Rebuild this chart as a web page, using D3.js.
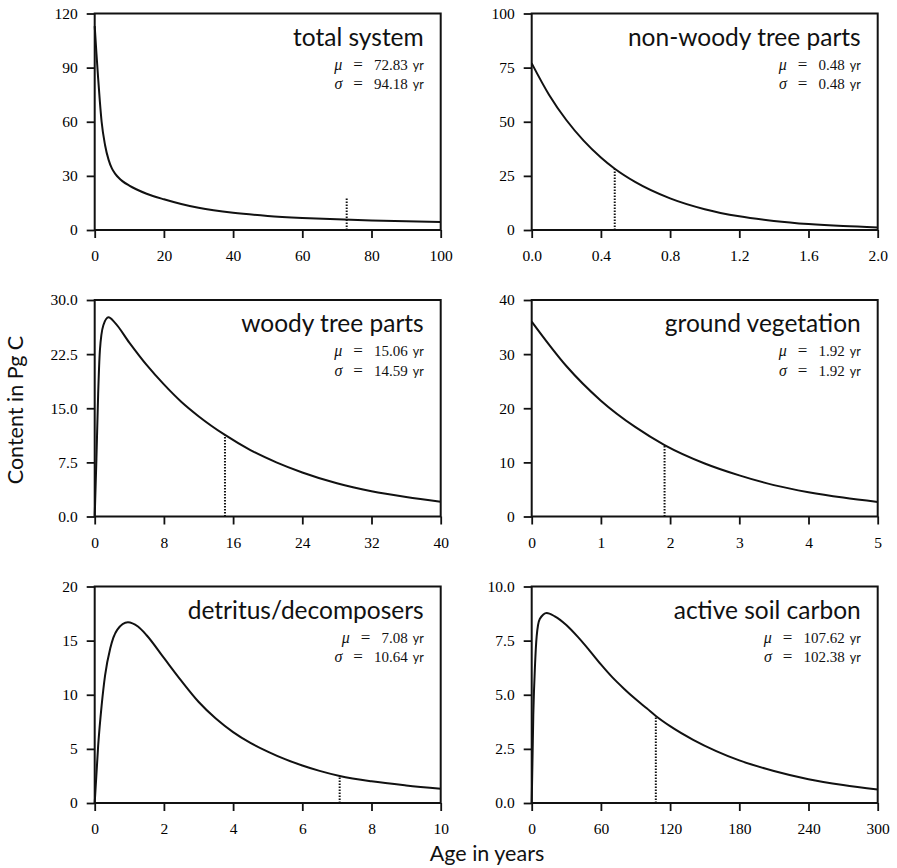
<!DOCTYPE html>
<html>
<head>
<meta charset="utf-8">
<script src="https://cdn.jsdelivr.net/npm/d3@7"></script>
<style>
  body { margin: 0; background: #fff; }
  .axis line { stroke: #111; stroke-width: 1.8; }
  .title { font-family: Lato, sans-serif; font-size: 24.5px; fill: #111; }
  .stat { font-family: "Liberation Serif", "Times New Roman", serif; font-size: 15px; fill: #111; }
  .unit { font-family: Lato, sans-serif; font-size: 12.5px; }
  .label { font-family: Lato, sans-serif; font-size: 21.5px; fill: #111; }
</style>
</head>
<body>
<script>
// panel order: row by row, left to right
const panelTitles = ["total system", "non-woody tree parts", "woody tree parts",
                     "ground vegetation", "detritus/decomposers", "active soil carbon"];
const meanAges = [72.83, 0.48, 15.06, 1.92, 7.08, 107.62];
const sdAges   = [94.18, 0.48, 14.59, 1.92, 10.64, 102.38];
const meanLineTops = [17.5, 28.3, 11.3, 13.2, 2.5, 4.02];

const xMaxes = [100, 2, 40, 5, 10, 300];
const yMaxes = [120, 100, 30, 40, 20, 10];
const xTicks = [[0, 20, 40, 60, 80, 100], [0, 0.4, 0.8, 1.2, 1.6, 2.0], [0, 8, 16, 24, 32, 40],
                [0, 1, 2, 3, 4, 5], [0, 2, 4, 6, 8, 10], [0, 60, 120, 180, 240, 300]];
const yTicks = [[0, 30, 60, 90, 120], [0, 25, 50, 75, 100], [0, 7.5, 15, 22.5, 30],
                [0, 10, 20, 30, 40], [0, 5, 10, 15, 20], [0, 2.5, 5, 7.5, 10]];
const xFormats = ["d", ".1f", "d", "d", "d", "d"];
const yFormats = ["d", "d", ".1f", "d", "d", ".1f"];

// curves: age (yr) and content (Pg C)
const totalAge     = [0, 0.5, 1, 1.5, 2, 3, 4, 5, 6, 7, 8, 10, 12, 15, 20, 25, 30, 40, 50, 60, 70, 80, 90, 100];
const totalContent = [113, 98, 84, 71, 60, 47, 39, 34, 31, 28.8, 27.1, 24.6, 22.6, 20.1, 17, 14.4, 12.3, 9.5, 7.8, 6.7, 5.9, 5.25, 4.8, 4.4];

const nonWoodyAge     = [0, 0.1, 0.2, 0.3, 0.4, 0.48, 0.6, 0.8, 1.0, 1.2, 1.4, 1.6, 1.8, 2.0];
const nonWoodyContent = [77, 62.5, 50.8, 41.3, 33.5, 28.3, 22.1, 14.6, 9.6, 6.3, 4.2, 2.75, 1.8, 1.2];

const woodyAge     = [0, 0.2, 0.4, 0.6, 1.0, 1.6, 2.3, 4, 6, 8, 10, 12, 15.06, 18, 21, 24, 28, 32, 36, 40];
const woodyContent = [0, 8, 17, 23, 26.5, 27.6, 26.9, 24.1, 21, 18.3, 15.9, 13.9, 11.3, 9.2, 7.5, 6.1, 4.6, 3.5, 2.7, 2.05];

const groundAge     = [0, 0.5, 1, 1.5, 1.92, 2.5, 3, 3.5, 4, 4.5, 5];
const groundContent = [36, 27.8, 21.4, 16.5, 13.2, 9.8, 7.6, 5.8, 4.5, 3.5, 2.7];

const detritusAge     = [0, 0.1, 0.2, 0.3, 0.45, 0.65, 0.96, 1.25, 1.5, 2, 2.5, 3, 3.5, 4, 4.5, 5, 5.5, 6, 6.5, 7.08, 8, 9, 10];
const detritusContent = [0, 5.3, 9, 11.8, 14.3, 16, 16.7, 16.3, 15.5, 13.4, 11.3, 9.35, 7.8, 6.55, 5.55, 4.75, 4.05, 3.47, 2.97, 2.5, 2.0, 1.62, 1.32];

const soilAge     = [0, 1.4, 2.9, 4.3, 7, 13, 20, 30, 40, 50, 60, 70, 80, 90, 100, 107.62, 120, 140, 160, 180, 210, 240, 270, 300];
const soilContent = [0, 4.1, 6.4, 7.7, 8.5, 8.78, 8.62, 8.22, 7.67, 7.05, 6.4, 5.8, 5.28, 4.8, 4.36, 4.02, 3.55, 2.92, 2.4, 1.97, 1.48, 1.1, 0.83, 0.62];

const curveAges     = [totalAge, nonWoodyAge, woodyAge, groundAge, detritusAge, soilAge];
const curveContents = [totalContent, nonWoodyContent, woodyContent, groundContent, detritusContent, soilContent];

const svg = d3.select("body").append("svg")
    .attr("width", 897)
    .attr("height", 868);

const margin = {top: 13.5, left: 94.7};
const width = 346;
const height = 216.5;
const colStep = 437;
const rowStep = 286.5;
const tickFont = "'Liberation Serif', 'Times New Roman', serif";

panelTitles.forEach((title, i) => {
    const col = i % 2, row = Math.floor(i / 2);
    const g = svg.append("g")
        .attr("transform", `translate(${margin.left + col * colStep}, ${margin.top + row * rowStep})`);

    const x = d3.scaleLinear().domain([0, xMaxes[i]]).range([0, width]);
    const y = d3.scaleLinear().domain([0, yMaxes[i]]).range([height, 0]);

    g.append("g")
        .attr("class", "axis")
        .attr("transform", `translate(0, ${height})`)
        .call(d3.axisBottom(x)
                .tickValues(xTicks[i])
                .tickSize(8)
                .tickSizeOuter(0)
                .tickPadding(12)
                .tickFormat(d3.format(xFormats[i])))
        .attr("font-family", tickFont)
        .attr("font-size", 15.5)
        .call(a => a.select(".domain").remove());

    g.append("g")
        .attr("class", "axis")
        .call(d3.axisLeft(y)
                .tickValues(yTicks[i])
                .tickSize(8)
                .tickSizeOuter(0)
                .tickPadding(9)
                .tickFormat(d3.format(yFormats[i])))
        .attr("font-family", tickFont)
        .attr("font-size", 15.5)
        .call(a => a.select(".domain").remove());

    const pts = curveAges[i].map((a, k) => [a, curveContents[i][k]]);
    g.append("path")
        .datum(pts)
        .attr("fill", "none")
        .attr("stroke", "#111")
        .attr("stroke-width", 2)
        .attr("d", d3.line()
                .x(d => x(d[0]))
                .y(d => y(d[1]))
                .curve(d3.curveMonotoneX));

    g.append("line")
        .attr("x1", x(meanAges[i]))
        .attr("x2", x(meanAges[i]))
        .attr("y1", y(0))
        .attr("y2", y(meanLineTops[i]))
        .attr("stroke", "#111")
        .attr("stroke-width", 2)
        .attr("stroke-dasharray", "1.5,1.5");

    g.append("rect")
        .attr("width", width)
        .attr("height", height)
        .attr("fill", "none")
        .attr("stroke", "#111")
        .attr("stroke-width", 2);

    g.append("text")
        .attr("class", "title")
        .attr("x", width - 17)
        .attr("y", 32)
        .attr("text-anchor", "end")
        .text(title);

    [["μ", meanAges[i]], ["σ", sdAges[i]]].forEach(([sym, v], k) => {
        const t = g.append("text")
            .attr("class", "stat")
            .attr("x", width - 17)
            .attr("y", 56 + k * 19.5)
            .attr("text-anchor", "end");
        t.append("tspan").attr("font-style", "italic").attr("font-size", 16).text(sym);
        t.append("tspan").attr("dx", 11).attr("font-size", 17).text("=");
        t.append("tspan").attr("dx", 11).text(v.toFixed(2));
        t.append("tspan").attr("dx", 5).attr("class", "unit").text("yr");
    });
});

svg.append("text")
    .attr("class", "label")
    .attr("transform", "rotate(-90)")
    .attr("x", -410)
    .attr("y", 23)
    .attr("text-anchor", "middle")
    .text("Content in Pg C");

svg.append("text")
    .attr("class", "label")
    .attr("x", 487)
    .attr("y", 861)
    .attr("text-anchor", "middle")
    .text("Age in years");
</script>
</body>
</html>
